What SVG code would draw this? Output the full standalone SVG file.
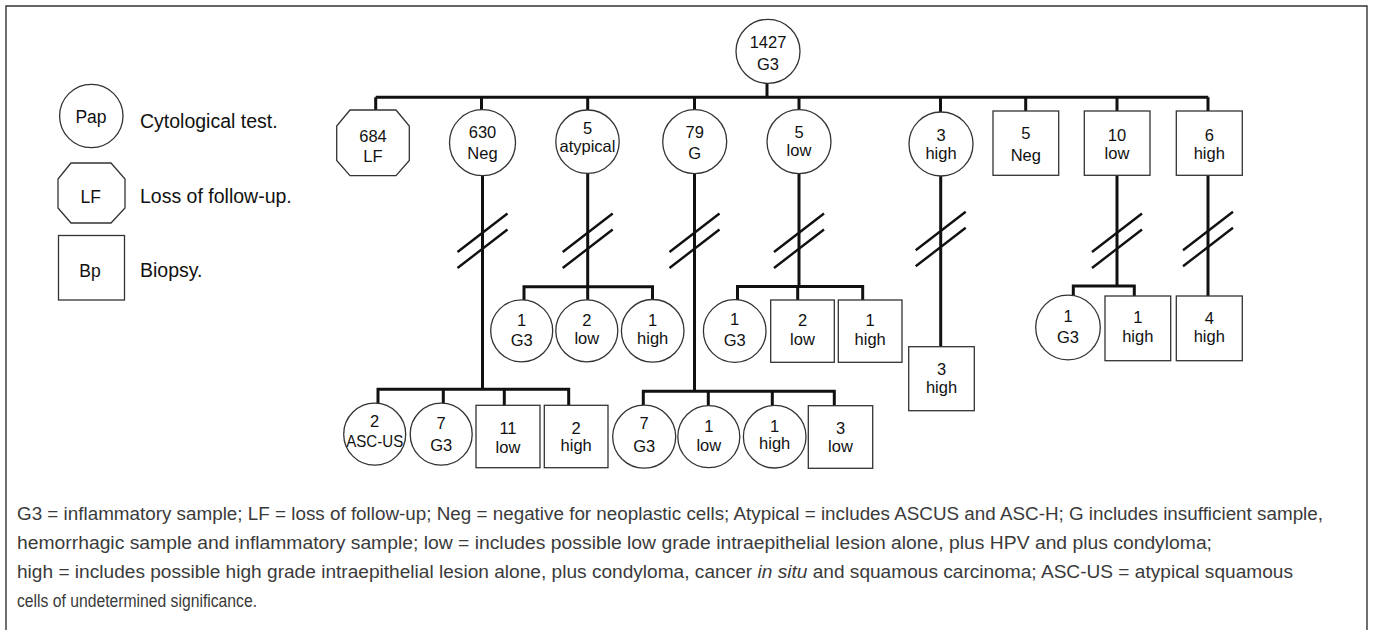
<svg xmlns="http://www.w3.org/2000/svg" width="1373" height="630" viewBox="0 0 1373 630">
<style>
.bg{fill:#fff}
.frame{fill:none;stroke:#333;stroke-width:1.4}
.nd{fill:#fff;stroke:#333;stroke-width:1.3}
.t{font-family:"Liberation Sans",Arial,sans-serif;font-size:16.5px;fill:#111;text-anchor:middle}
.lt{font-family:"Liberation Sans",Arial,sans-serif;font-size:17.5px;fill:#111;text-anchor:middle}
.lg{font-family:"Liberation Sans",Arial,sans-serif;font-size:19.5px;fill:#111}
.cap{font-family:"Liberation Sans",Arial,sans-serif;font-size:17.5px;fill:#3a3a3a}
.ln{fill:none;stroke:#111;stroke-width:3;stroke-linecap:butt;stroke-linejoin:miter}
.br{fill:none;stroke:#111;stroke-width:2.4}
</style>
<rect class="bg" x="0" y="0" width="1373" height="630"/>
<path class="frame" d="M6,630 V6 H1367 V630"/>

<!-- legend -->
<g id="legend-pap">
<circle class="nd" cx="91.3" cy="116" r="31.7"/>
<text class="lt" x="91" y="123">Pap</text>
<text class="lg" x="140" y="128.3">Cytological test.</text>
</g>
<g id="legend-lf">
<polygon class="nd" points="71,163 111,163 125,179 125,208 111,223 71,223 58,208 58,179"/>
<text class="lt" x="90.7" y="203">LF</text>
<text class="lg" x="140" y="202.7">Loss of follow-up.</text>
</g>
<g id="legend-bp">
<rect class="nd" x="58.5" y="235.5" width="66" height="64.5"/>
<text class="lt" x="90" y="276.7">Bp</text>
<text class="lg" x="140" y="276.7">Biopsy.</text>
</g>

<!-- connectors -->
<g id="connectors">
<path class="ln" d="M767,83.3 V97.3 M375.7,97.3 H1208.3 M375.7,97.3 V110 M481.5,97.3 V110 M587.7,97.3 V110 M694.5,97.3 V110 M799,97.3 V110 M940.5,97.3 V112 M1025.7,97.3 V111 M1117,97.3 V111 M1208,97.3 V111"/>
<path class="ln" d="M482.5,175.7 V389.3 M378,389.3 H569.3 M378,387.8 V404 M443.3,389.3 V403.5 M504.3,389.3 V405.3 M568.7,387.8 V405.3"/>
<path class="ln" d="M587.7,173.3 V286.7 M524,286.7 H652.7 M524,285.2 V300.5 M587.7,286.7 V300 M652.5,285.2 V300"/>
<path class="ln" d="M694.5,173.3 V391.3 M643.3,391.3 H834.3 M643.3,389.8 V405.3 M708.3,391.3 V405.7 M772.3,391.3 V405.5 M834.3,389.8 V405.7"/>
<path class="ln" d="M799,173.7 V286.5 M737.5,286.5 H862.7 M737.5,285 V300 M797.7,286.5 V300 M862.7,285 V300"/>
<path class="ln" d="M940.7,176 V346.7"/>
<path class="ln" d="M1117,175.3 V286 M1073.3,286 H1134.3 M1073.3,284.5 V295.5 M1134.3,284.5 V296"/>
<path class="ln" d="M1208,175.3 V296"/>
<g id="breaks">
<path class="br" d="M457.5,252 L507.5,213.5 M457.5,268 L507.5,229.5"/>
<path class="br" d="M562.7,252 L612.7,213.5 M562.7,268 L612.7,229.5"/>
<path class="br" d="M669.5,252 L719.5,213.5 M669.5,268 L719.5,229.5"/>
<path class="br" d="M774,252 L824,213.5 M774,268 L824,229.5"/>
<path class="br" d="M915.7,250.3 L965.7,211.8 M915.7,266.3 L965.7,227.8"/>
<path class="br" d="M1092,252 L1142,213.5 M1092,268 L1142,229.5"/>
<path class="br" d="M1183,250.3 L1233,211.8 M1183,266.3 L1233,227.8"/>
</g>
</g>

<!-- level 0 -->
<g id="n-root">
<circle class="nd" cx="768" cy="51.3" r="32"/>
<text class="t" x="768" y="48.3">1427</text>
<text class="t" x="768" y="70">G3</text>
</g>

<!-- level 1 -->
<g id="n-684lf">
<polygon class="nd" points="350,110 396,110 409.3,126 409.3,160.5 396,175.7 350,175.7 336.7,160.5 336.7,126"/>
<text class="t" x="373" y="141.7">684</text>
<text class="t" x="373" y="162.3">LF</text>
</g>
<g id="n-630neg">
<circle class="nd" cx="482.5" cy="142.7" r="33"/>
<text class="t" x="482.5" y="138.3">630</text>
<text class="t" x="482.5" y="159.3">Neg</text>
</g>
<g id="n-5atyp">
<circle class="nd" cx="587.5" cy="141.7" r="31.7"/>
<text class="t" x="587.5" y="134">5</text>
<text class="t" x="587.5" y="151.7">atypical</text>
</g>
<g id="n-79g">
<circle class="nd" cx="694.7" cy="141.7" r="32"/>
<text class="t" x="694.7" y="138.3">79</text>
<text class="t" x="694.7" y="159.3">G</text>
</g>
<g id="n-5low">
<circle class="nd" cx="799" cy="141.7" r="32"/>
<text class="t" x="799" y="137.7">5</text>
<text class="t" x="799" y="156">low</text>
</g>
<g id="n-3high">
<circle class="nd" cx="941" cy="144" r="32"/>
<text class="t" x="941" y="141">3</text>
<text class="t" x="941" y="158.7">high</text>
</g>
<g id="n-5neg-bp">
<rect class="nd" x="993" y="111" width="65.7" height="64.3"/>
<text class="t" x="1025.8" y="139.3">5</text>
<text class="t" x="1025.8" y="161">Neg</text>
</g>
<g id="n-10low-bp">
<rect class="nd" x="1084.3" y="111" width="65.7" height="64.3"/>
<text class="t" x="1117" y="141">10</text>
<text class="t" x="1117" y="159">low</text>
</g>
<g id="n-6high-bp">
<rect class="nd" x="1176.3" y="111" width="66" height="64.3"/>
<text class="t" x="1209.3" y="141">6</text>
<text class="t" x="1209.3" y="159">high</text>
</g>

<!-- atypical children -->
<g id="n-a-1g3">
<circle class="nd" cx="521.7" cy="330.8" r="31"/>
<text class="t" x="521.7" y="325.7">1</text>
<text class="t" x="521.7" y="345.7">G3</text>
</g>
<g id="n-a-2low">
<circle class="nd" cx="586.8" cy="330.8" r="31"/>
<text class="t" x="586.8" y="325.7">2</text>
<text class="t" x="586.8" y="344.3">low</text>
</g>
<g id="n-a-1high">
<circle class="nd" cx="652.7" cy="330.8" r="31.3"/>
<text class="t" x="652.7" y="325.7">1</text>
<text class="t" x="652.7" y="344.3">high</text>
</g>

<!-- neg children -->
<g id="n-n-2ascus">
<circle class="nd" cx="374.7" cy="434.2" r="31"/>
<text class="t" x="374.7" y="426.7">2</text>
<text class="t" x="374.7" y="446.7" textLength="57" lengthAdjust="spacingAndGlyphs">ASC-US</text>
</g>
<g id="n-n-7g3">
<circle class="nd" cx="441.2" cy="434.2" r="31"/>
<text class="t" x="441.2" y="429">7</text>
<text class="t" x="441.2" y="451">G3</text>
</g>
<g id="n-n-11low">
<rect class="nd" x="476" y="405.3" width="64" height="62.4"/>
<text class="t" x="508" y="434.3">11</text>
<text class="t" x="508" y="452.7">low</text>
</g>
<g id="n-n-2high">
<rect class="nd" x="544.3" y="405.3" width="63.7" height="62.4"/>
<text class="t" x="576.2" y="434">2</text>
<text class="t" x="576.2" y="451">high</text>
</g>

<!-- G children -->
<g id="n-g-7g3">
<circle class="nd" cx="644.2" cy="436.7" r="31.5"/>
<text class="t" x="644.2" y="429">7</text>
<text class="t" x="644.2" y="451.7">G3</text>
</g>
<g id="n-g-1low">
<circle class="nd" cx="708.8" cy="436.7" r="31"/>
<text class="t" x="708.8" y="431.7">1</text>
<text class="t" x="708.8" y="450.7">low</text>
</g>
<g id="n-g-1high">
<circle class="nd" cx="774.7" cy="436.7" r="31.3"/>
<text class="t" x="774.7" y="431.7">1</text>
<text class="t" x="774.7" y="449">high</text>
</g>
<g id="n-g-3low">
<rect class="nd" x="808.3" y="405.7" width="64.4" height="62.6"/>
<text class="t" x="840.5" y="434">3</text>
<text class="t" x="840.5" y="452.3">low</text>
</g>

<!-- low children -->
<g id="n-l-1g3">
<circle class="nd" cx="734.7" cy="331" r="31.3"/>
<text class="t" x="734.7" y="325">1</text>
<text class="t" x="734.7" y="345.7">G3</text>
</g>
<g id="n-l-2low">
<rect class="nd" x="770.7" y="300" width="63.6" height="62.3"/>
<text class="t" x="802.5" y="326">2</text>
<text class="t" x="802.5" y="345">low</text>
</g>
<g id="n-l-1high">
<rect class="nd" x="838.3" y="300" width="63.7" height="62.3"/>
<text class="t" x="870.2" y="326">1</text>
<text class="t" x="870.2" y="345">high</text>
</g>

<!-- 3 high child -->
<g id="n-h-3high">
<rect class="nd" x="908.7" y="346.7" width="65.6" height="64"/>
<text class="t" x="941.5" y="375">3</text>
<text class="t" x="941.5" y="392.7">high</text>
</g>

<!-- 10 low children -->
<g id="n-10-1g3">
<circle class="nd" cx="1068" cy="327.5" r="32.3"/>
<text class="t" x="1068" y="321.7">1</text>
<text class="t" x="1068" y="342.7">G3</text>
</g>
<g id="n-10-1high">
<rect class="nd" x="1105" y="296" width="65.7" height="64.7"/>
<text class="t" x="1137.8" y="323.3">1</text>
<text class="t" x="1137.8" y="341.7">high</text>
</g>

<!-- 6 high child -->
<g id="n-6-4high">
<rect class="nd" x="1176.3" y="296" width="66" height="64.7"/>
<text class="t" x="1209.3" y="324">4</text>
<text class="t" x="1209.3" y="341.7">high</text>
</g>

<!-- caption -->
<g id="caption">
<text class="cap" x="17" y="520" textLength="1306" lengthAdjust="spacingAndGlyphs">G3 = inflammatory sample; LF = loss of follow-up; Neg = negative for neoplastic cells; Atypical = includes ASCUS and ASC-H; G includes insufficient sample,</text>
<text class="cap" x="17" y="549" textLength="1195" lengthAdjust="spacingAndGlyphs">hemorrhagic sample and inflammatory sample; low = includes possible low grade intraepithelial lesion alone, plus HPV and plus condyloma;</text>
<text class="cap" x="17" y="578" textLength="1276" lengthAdjust="spacingAndGlyphs">high = includes possible high grade intraepithelial lesion alone, plus condyloma, cancer <tspan font-style="italic">in situ</tspan> and squamous carcinoma; ASC-US = atypical squamous</text>
<text class="cap" x="17" y="607" textLength="240" lengthAdjust="spacingAndGlyphs">cells of undetermined significance.</text>
</g>
</svg>
